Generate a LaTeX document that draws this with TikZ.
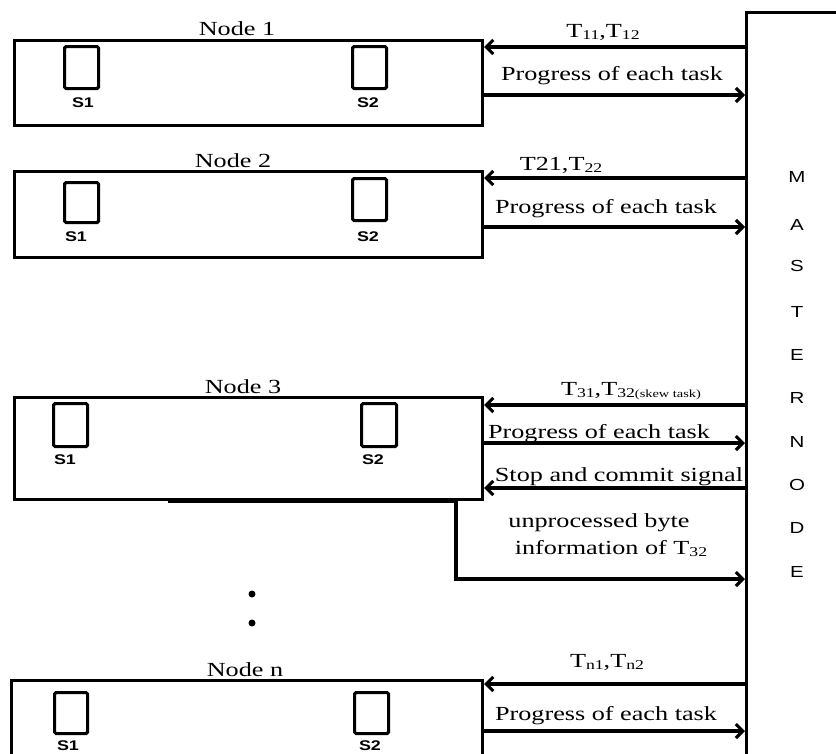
\documentclass[tikz,border=0pt]{standalone}
\usepackage{fontspec}
\setmainfont{Liberation Serif}[FakeStretch=1.31]
\newfontfamily\sansf{Liberation Sans}[FakeStretch=1.28]
\usetikzlibrary{arrows.meta}
\newcommand{\sbs}[2][13.5]{\raisebox{-2pt}{\fontsize{#1}{#1}\selectfont #2}}
\tikzset{
 nodebox/.style={draw, line width=3.1pt, minimum width=468pt, anchor=north west, inner sep=0pt},
 slot/.style={draw, line width=3.1pt, rounded corners=1.5pt, minimum width=34pt, minimum height=42pt, inner sep=0pt, anchor=north west},
 slbl/.style={font=\sansf\bfseries\fontsize{14}{14}\selectfont, inner sep=0pt},
 lbl/.style={font=\fontsize{20}{20}\selectfont, inner sep=0pt, anchor=base},
 mlet/.style={font=\sansf\fontsize{16}{16}\selectfont, inner sep=0pt},
 arr/.style={line width=3.1pt, -{Straight Barb[length=7pt,width=14pt]}},
 dotmark/.style={circle, fill=black, inner sep=0pt, minimum size=7pt},
}
\begin{document}
\begin{tikzpicture}[x=1pt,y=-1pt]
\useasboundingbox (0,0) rectangle (836,753);
% master node
\node[draw, line width=3.1pt, minimum width=300pt, minimum height=900pt, anchor=north west, inner sep=0pt] (master) at (745,11) {};
\foreach \l/\yy [count=\i] in {M/177,A/225,S/266,T/312,E/355,R/398,N/442,O/485,D/528,E/572}
  \node[mlet] (m\i) at (797,\yy) {\l};

% Node 1
\node[nodebox, minimum height=85pt] (n1) at (13,39) {};
\node[lbl] (n1l) at (237,35) {Node 1};
\node[slot] (n1s1) at (63,45) {};
\node[slot] (n1s2) at (351,45) {};
\node[slbl] (n1s1l) at (83,103) {S1};
\node[slbl] (n1s2l) at (368,103) {S2};
\coordinate (y1a) at (0,47);
\coordinate (y1b) at (0,95);
\draw[arr] (master.west |- y1a) -- (n1.east |- y1a);
\draw[arr] (n1.east |- y1b) -- (master.west |- y1b);
\node[lbl] (t1) at (603,37) {T\sbs{11},T\sbs{12}};
\node[lbl] (p1) at (612,80) {Progress of each task};

% Node 2
\node[nodebox, minimum height=86pt] (n2) at (13,170) {};
\node[lbl] (n2l) at (233,167) {Node 2};
\node[slot, minimum height=40pt] (n2s1) at (63,181) {};
\node[slot] (n2s2) at (351,177) {};
\node[slbl] (n2s1l) at (76,237) {S1};
\node[slbl] (n2s2l) at (368,237) {S2};
\coordinate (y2a) at (0,178);
\coordinate (y2b) at (0,227);
\draw[arr] (master.west |- y2a) -- (n2.east |- y2a);
\draw[arr] (n2.east |- y2b) -- (master.west |- y2b);
\node[lbl] (t2) at (561,170) {T21,T\sbs{22}};
\node[lbl] (p2) at (606,213) {Progress of each task};

% Node 3
\node[nodebox, minimum height=102pt] (n3) at (13,396) {};
\node[lbl] (n3l) at (243,393) {Node 3};
\node[slot, minimum height=43pt] (n3s1) at (52,402) {};
\node[slot, minimum height=43pt, minimum width=35pt] (n3s2) at (360,402) {};
\node[slbl] (n3s1l) at (65,460) {S1};
\node[slbl] (n3s2l) at (373,460) {S2};
\coordinate (y3a) at (0,405);
\coordinate (y3b) at (0,443);
\coordinate (y3c) at (0,488);
\coordinate (y3d) at (0,579);
\coordinate (u0) at (168,501);
\coordinate (u1) at (456,501);
\draw[arr] (master.west |- y3a) -- (n3.east |- y3a);
\draw[arr] (n3.east |- y3b) -- (master.west |- y3b);
\draw[arr] (master.west |- y3c) -- (n3.east |- y3c);
\draw[arr] (u0) -- (u1) -- (u1 |- y3d) -- (master.west |- y3d);
\node[lbl] (t3) at (631,395) {T\sbs{31},T\sbs{32}\sbs[11]{(skew task)}};
\node[lbl] (p3) at (599,438) {Progress of each task};
\node[lbl] (s3) at (619,481) {Stop and commit signal};
\node[lbl] (u3a) at (599,527) {unprocessed byte};
\node[lbl] (u3b) at (611,554) {information of T\sbs{32}};

% dots
\node[dotmark] (d1) at (252,594) {};
\node[dotmark] (d2) at (252,623) {};

% Node n
\node[nodebox, minimum height=120pt, minimum width=471pt] (nn) at (10,679) {};
\node[lbl] (nnl) at (245,676) {Node n};
\node[slot, minimum height=41pt, minimum width=33pt] (nns1) at (53,691) {};
\node[slot, minimum height=41pt] (nns2) at (353,691) {};
\node[slbl] (nns1l) at (68,746) {S1};
\node[slbl] (nns2l) at (370,746) {S2};
\coordinate (yna) at (0,684);
\coordinate (ynb) at (0,731);
\draw[arr] (master.west |- yna) -- (nn.east |- yna);
\draw[arr] (nn.east |- ynb) -- (master.west |- ynb);
\node[lbl] (tn) at (607,667) {T\sbs{n1},T\sbs{n2}};
\node[lbl] (pn) at (606,720) {Progress of each task};
\end{tikzpicture}
\end{document}
